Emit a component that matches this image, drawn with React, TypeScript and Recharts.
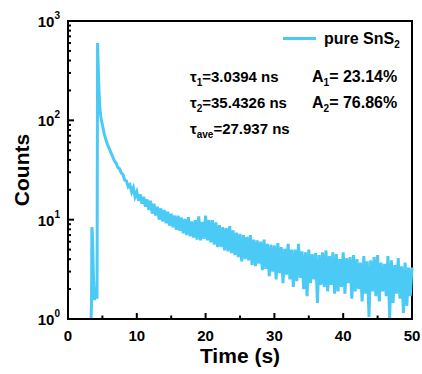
import { LineChart, Line, XAxis, YAxis, ReferenceArea } from 'recharts';

// rise and peak, sampled unevenly
const EARLY_TIME = [3.35, 3.42, 3.47, 3.56, 3.7, 3.85, 3.95, 4.05, 4.15, 4.22, 4.3, 4.36, 4.45, 4.55, 4.65, 4.8];
const EARLY_COUNTS = [1, 1.4, 8.4, 7, 2.6, 1.55, 2.1, 1.7, 1.9, 1.6, 600, 420, 250, 170, 127, 105];

// decay tail, one sample every 0.25 from 5.0 to 50.0
const TAIL_START = 5;
const TAIL_STEP = 0.25;
const TAIL_COUNTS = [
  90, 74, 64, 57,
  52, 47, 43, 39,
  37, 33.5, 32.5, 29.5,
  28.5, 25, 24.5, 21.5,
  22.5, 19, 21, 17,
  19, 15.5, 18, 14.5,
  17, 13.5, 16, 12.5,
  15.5, 11.5, 14.5, 11,
  13.5, 10, 13, 9.6,
  12.5, 9.2, 12, 8.7,
  11.5, 8.4, 11, 7.9,
  11, 7.7, 10.5, 7.3,
  10.2, 7, 10.6, 6.8,
  9.6, 6.6, 9.9, 6.3,
  10.8, 6.2, 9.5, 6.4,
  11, 6.2, 9.9, 5.9,
  9.9, 5.6, 9.4, 5.3,
  8.8, 5.3, 8.4, 4.9,
  8.2, 4.8, 8.6, 4.6,
  7.8, 4.4, 7.4, 4.2,
  7.2, 3.8, 7, 4,
  6.7, 3.9, 7, 3.5,
  6.3, 3.4, 6.2, 3.6,
  6, 3.1, 6.3, 3.2,
  5.7, 2.7, 5.6, 3,
  5.5, 2.5, 5.8, 2.9,
  5.3, 2.3, 5.1, 2.8,
  5.7, 2.5, 5, 2.1,
  5, 2.4, 5.7, 2.6,
  4.8, 2, 4.7, 1.7,
  5, 2.3, 4.5, 2.5,
  4.6, 1.45, 4.4, 2.2,
  4.7, 2.1, 4.9, 1.9,
  4.3, 2.2, 4.7, 1.8,
  4.5, 1.9, 4, 2.1,
  4.7, 1.8, 4.1, 2.3,
  4.2, 1.6, 4.4, 1.9,
  4, 2, 3.7, 1.5,
  4.3, 1.8, 3.8, 1.05,
  3.9, 1.9, 4.2, 1.7,
  4.4, 1.5, 3.7, 1.9,
  3.6, 1.7, 4.3, 1.02,
  3.9, 1.45, 3.5, 1.8,
  4.1, 1.6, 3.4, 1.15,
  3.7, 1.35, 3.3, 1.7,
  3.3,
];

const X_TICKS = [0, 5, 10, 15, 20, 25, 30, 35, 40, 45, 50];
const Y_TICKS = [
  1, 2, 3, 4, 5, 6, 7, 8, 9,
  10, 20, 30, 40, 50, 60, 70, 80, 90,
  100, 200, 300, 400, 500, 600, 700, 800, 900,
  1000,
];

const SERIES_NAME = 'pure SnS';
const FIT_LEFT = [
  { sym: 'τ', sub: '1', val: '=3.0394 ns' },
  { sym: 'τ', sub: '2', val: '=35.4326 ns' },
  { sym: 'τ', sub: 'ave', val: '=27.937 ns' },
];
const FIT_RIGHT = [
  { sym: 'A', sub: '1', val: '= 23.14%' },
  { sym: 'A', sub: '2', val: '= 76.86%' },
];

const COLOR = '#4ccaf6';
const FONT = '"Liberation Sans", Arial, sans-serif';
const PLOT_LEFT = 68;
const PLOT_BOTTOM = 319;

const data = [
  ...EARLY_TIME.map((t, i) => ({ t, c: EARLY_COUNTS[i] })),
  ...TAIL_COUNTS.map((c, i) => ({ t: TAIL_START + i * TAIL_STEP, c })),
];

const XTick = (props: any) => {
  const { x, payload } = props;
  const v = payload.value as number;
  const major = v % 10 === 0;
  return (
    <g>
      <line x1={x} x2={x} y1={PLOT_BOTTOM} y2={PLOT_BOTTOM - (major ? 6 : 3.5)} stroke="#000" strokeWidth={2} />
      {major && (
        <text x={x} y={PLOT_BOTTOM + 16} textAnchor="middle" dominantBaseline="central"
          fontFamily={FONT} fontWeight="bold" fontSize={15} fill="#000">
          {v}
        </text>
      )}
    </g>
  );
};

const YTick = (props: any) => {
  const { y, payload } = props;
  const v = payload.value as number;
  const exp = Math.log10(v);
  const major = Math.abs(exp - Math.round(exp)) < 1e-9;
  return (
    <g>
      <line x1={PLOT_LEFT} x2={PLOT_LEFT + (major ? 6 : 3)} y1={y} y2={y} stroke="#000" strokeWidth={2} />
      {major && (
        <text x={PLOT_LEFT - 8} y={y + 6} textAnchor="end"
          fontFamily={FONT} fontWeight="bold" fontSize={15} fill="#000">
          <tspan>10</tspan>
          <tspan dy={-8} fontSize={10}>{Math.round(exp)}</tspan>
        </text>
      )}
    </g>
  );
};

const subStyle = { fontSize: 10, position: 'relative' as const, top: 4 };

export default function App() {
  return (
    <div style={{ position: 'absolute', left: 0, top: 0, width: 422, height: 374, background: '#fff' }}>
      <LineChart width={422} height={374} data={data} margin={{ top: 21, right: 10, bottom: 25, left: 8 }}>
        <XAxis
          type="number"
          dataKey="t"
          domain={[0, 50]}
          ticks={X_TICKS}
          interval={0}
          height={30}
          axisLine={{ stroke: '#000', strokeWidth: 2 }}
          tickLine={false}
          tick={<XTick />}
        />
        <YAxis
          type="number"
          scale="log"
          domain={[1, 1000]}
          allowDataOverflow
          ticks={Y_TICKS}
          interval={0}
          width={60}
          axisLine={{ stroke: '#000', strokeWidth: 2 }}
          tickLine={false}
          tick={<YTick />}
        />
        <ReferenceArea x1={0} x2={50} y1={1} y2={1000} fill="none" stroke="#000" strokeWidth={2} ifOverflow="visible" />
        <Line
          type="linear"
          dataKey="c"
          stroke={COLOR}
          strokeWidth={3}
          dot={false}
          isAnimationActive={false}
        />
      </LineChart>

      {/* axis titles */}
      <div style={{ position: 'absolute', left: 140, width: 200, top: 344, textAlign: 'center', fontFamily: FONT, fontWeight: 'bold', fontSize: 21, color: '#000' }}>
        Time (s)
      </div>
      <div style={{ position: 'absolute', left: 22, top: 170, transform: 'translate(-50%, -50%) rotate(-90deg)', fontFamily: FONT, fontWeight: 'bold', fontSize: 21, color: '#000', whiteSpace: 'nowrap' }}>
        Counts
      </div>

      {/* legend */}
      <div style={{ position: 'absolute', left: 283, top: 37, width: 33, height: 3, background: COLOR }} />
      <div style={{ position: 'absolute', left: 324, top: 29, fontFamily: FONT, fontWeight: 'bold', fontSize: 16, color: '#000', whiteSpace: 'nowrap', lineHeight: '20px' }}>
        {SERIES_NAME}<span style={subStyle}>2</span>
      </div>

      {/* fit results */}
      {FIT_LEFT.map((r, i) => (
        <div key={r.sub} style={{ position: 'absolute', left: 190, top: 68 + i * 26, fontFamily: FONT, fontWeight: 'bold', fontSize: 15, color: '#000', whiteSpace: 'nowrap', lineHeight: '18px' }}>
          {r.sym}<span style={subStyle}>{r.sub}</span>{r.val}
        </div>
      ))}
      {FIT_RIGHT.map((r, i) => (
        <div key={r.sub} style={{ position: 'absolute', left: 312, top: 68 + i * 26, fontFamily: FONT, fontWeight: 'bold', fontSize: 16, color: '#000', whiteSpace: 'nowrap', lineHeight: '18px' }}>
          {r.sym}<span style={subStyle}>{r.sub}</span>{r.val}
        </div>
      ))}
    </div>
  );
}
